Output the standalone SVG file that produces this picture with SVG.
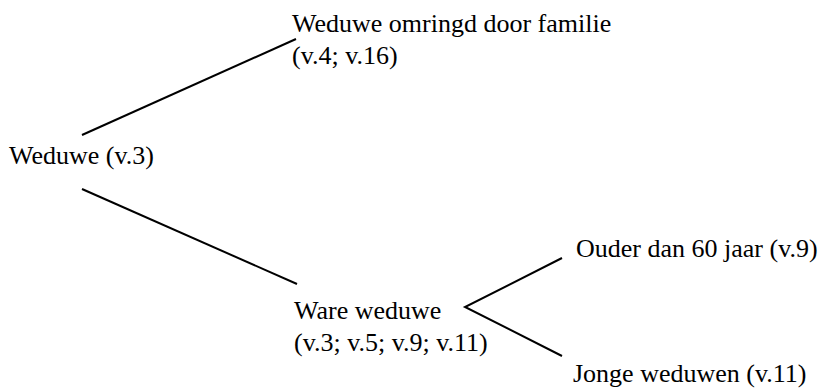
<svg xmlns="http://www.w3.org/2000/svg" width="826" height="390" viewBox="0 0 826 390">
  <style>
    .edge { fill: none; stroke: #000; stroke-width: 2; stroke-linecap: butt; stroke-linejoin: miter; }
  </style>
  <rect width="826" height="390" fill="#fff"/>

  <!-- connectors of the tree -->
  <g id="connectors">
    <line class="edge" x1="82" y1="135" x2="296" y2="39"/>
    <line class="edge" x1="82" y1="189" x2="297" y2="284"/>
    <polyline class="edge" points="562,258 465,307 562,356"/>
  </g>

  <!-- tree nodes, Times-style serif labels -->
  <g id="weduwe" font-family="Times New Roman, Liberation Serif, serif" font-size="26">
    <text x="9" y="164" font-family="Times New Roman">Weduwe (v.3)</text>
  </g>

  <g id="familie" font-family="Times New Roman, Liberation Serif, serif" font-size="26">
    <text x="292" y="32" font-family="Times New Roman">Weduwe omringd door familie</text>
    <text x="292" y="64" font-family="Times New Roman">(v.4; v.16)</text>
  </g>

  <g id="ware-weduwe" font-family="Times New Roman, Liberation Serif, serif" font-size="26">
    <text x="294" y="319" font-family="Times New Roman">Ware weduwe</text>
    <text x="294" y="351" font-family="Times New Roman">(v.3; v.5; v.9; v.11)</text>
  </g>

  <g id="ouder" font-family="Times New Roman, Liberation Serif, serif" font-size="26">
    <text x="576" y="257" font-family="Times New Roman">Ouder dan 60 jaar (v.9)</text>
  </g>

  <g id="jonge" font-family="Times New Roman, Liberation Serif, serif" font-size="26">
    <text x="573" y="382" font-family="Times New Roman">Jonge weduwen (v.11)</text>
  </g>
</svg>
